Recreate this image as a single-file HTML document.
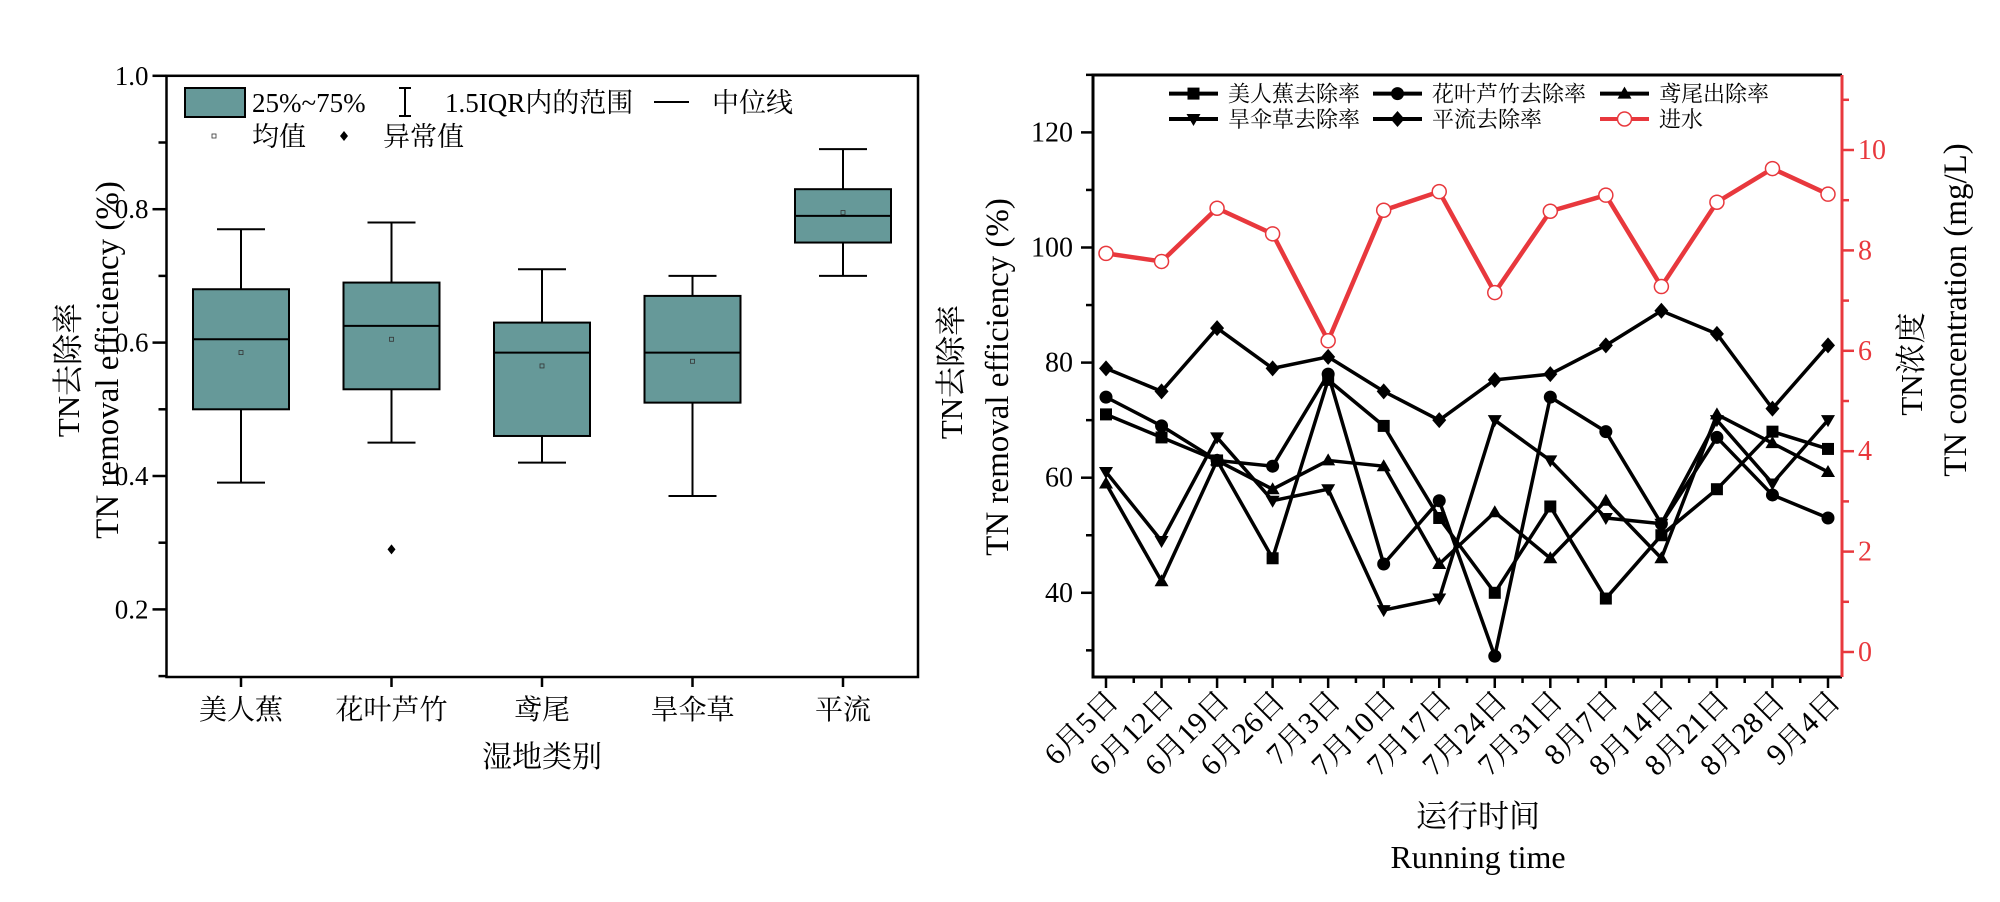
<!DOCTYPE html>
<html><head><meta charset="utf-8"><style>
html,body{margin:0;padding:0;background:#fff;}
svg{display:block;font-family:"Liberation Serif","Noto Serif CJK SC",serif;}
</style></head><body>
<svg id="svg" width="2000" height="902" viewBox="0 0 2000 902" xmlns="http://www.w3.org/2000/svg">
<g id="left"></g>
<g id="right"></g>
</svg>
<script>
// ---------- Box chart data ----------
const boxCats = ["美人蕉","花叶芦竹","鸢尾","旱伞草","平流"];
const boxMin = [0.39,0.45,0.42,0.37,0.70];
const boxQ1 = [0.50,0.53,0.46,0.51,0.75];
const boxMed = [0.605,0.625,0.585,0.585,0.79];
const boxQ3 = [0.68,0.69,0.63,0.67,0.83];
const boxMax = [0.77,0.78,0.71,0.70,0.89];
const boxMean = [0.585,0.605,0.565,0.572,0.795];
const boxOutliers = [[],[0.29],[],[],[]];
const boxYTicks = [0.2,0.4,0.6,0.8,1.0];
const boxYTickLabels = ["0.2","0.4","0.6","0.8","1.0"];

// ---------- Line chart data ----------
const dates = ["6月5日","6月12日","6月19日","6月26日","7月3日","7月10日","7月17日","7月24日","7月31日","8月7日","8月14日","8月21日","8月28日","9月4日"];
const sMeiren = [71,67,63,46,77,69,53,40,55,39,50,58,68,65];
const sHuaye = [74,69,63,62,78,45,56,29,74,68,52,67,57,53];
const sYuanwei = [59,42,63,58,63,62,45,54,46,56,46,71,66,61];
const sHansan = [61,49,67,56,58,37,39,70,63,53,52,70,59,70];
const sPingliu = [79,75,86,79,81,75,70,77,78,83,89,85,72,83];
const sInflow = [7.94,7.78,8.84,8.33,6.2,8.8,9.17,7.16,8.78,9.1,7.28,8.96,9.63,9.12];
const leftTicks = [40,60,80,100,120];
const rightTicks = [0,2,4,6,8,10];

const NS="http://www.w3.org/2000/svg";
function mk(parent,tag,attrs,text){const e=document.createElementNS(NS,tag);for(const k in attrs)e.setAttribute(k,attrs[k]);if(text!==undefined)e.textContent=text;parent.appendChild(e);return e;}

// ===== Left box chart =====
const L=document.getElementById('left');
const bx0=166.5,bx1=918,by0=75.8,by1=677;
const yB=v=>by0+(1.0-v)*667;
const xB=i=>241+150.5*i;
let e;
for(let v=0.1;v<1.0001;v+=0.1){const r=Math.round(v*10)/10;const major=Math.round(r*10)%2===0;
 e=mk(L,'line',{x1:bx0,x2:bx0-(major?14:8),y1:yB(r),y2:yB(r),stroke:'#000','stroke-width':2.5});
 }
boxYTicks.forEach((t,i)=>{e=mk(L,'text',{x:bx0-18,y:yB(t)+9,'text-anchor':'end','font-size':27},boxYTickLabels[i]);
 });
boxCats.forEach((c,i)=>{
 const x=xB(i),w=96,cw=48;
 const g=mk(L,'g',{});
 mk(g,'line',{x1:x,x2:x,y1:yB(boxMax[i]),y2:yB(boxQ3[i]),stroke:'#000','stroke-width':2});
 mk(g,'line',{x1:x,x2:x,y1:yB(boxQ1[i]),y2:yB(boxMin[i]),stroke:'#000','stroke-width':2});
 mk(g,'line',{x1:x-cw/2,x2:x+cw/2,y1:yB(boxMax[i]),y2:yB(boxMax[i]),stroke:'#000','stroke-width':2});
 mk(g,'line',{x1:x-cw/2,x2:x+cw/2,y1:yB(boxMin[i]),y2:yB(boxMin[i]),stroke:'#000','stroke-width':2});
 mk(g,'rect',{x:x-w/2,y:yB(boxQ3[i]),width:w,height:yB(boxQ1[i])-yB(boxQ3[i]),fill:'#669999',stroke:'#000','stroke-width':2});
 mk(g,'line',{x1:x-w/2,x2:x+w/2,y1:yB(boxMed[i]),y2:yB(boxMed[i]),stroke:'#000','stroke-width':2});
 mk(g,'rect',{x:x-2,y:yB(boxMean[i])-2,width:4,height:4,fill:'none',stroke:'#333','stroke-width':0.8});
 boxOutliers[i].forEach(o=>{mk(g,'path',{d:`M${x},${yB(o)-5}L${x+4},${yB(o)}L${x},${yB(o)+5}L${x-4},${yB(o)}Z`,fill:'#000'});});
 e=mk(L,'line',{x1:x,x2:x,y1:by1,y2:by1+10,stroke:'#000','stroke-width':2.5});
 
 e=mk(L,'text',{x:x,y:719,'text-anchor':'middle','font-size':28},c);
 
});
e=mk(L,'rect',{x:bx0,y:by0,width:bx1-bx0,height:by1-by0,fill:'none',stroke:'#000','stroke-width':2.5});

e=mk(L,'text',{x:542,y:767,'text-anchor':'middle','font-size':30},'湿地类别');

e=mk(L,'text',{x:0,y:0,transform:'translate(79,370) rotate(-90)','text-anchor':'middle','font-size':31},'TN去除率');

e=mk(L,'text',{x:0,y:0,transform:'translate(118,360) rotate(-90)','text-anchor':'middle','font-size':33},'TN removal efficiency (%)');

// legend
const lg=mk(L,'g',{});
mk(lg,'rect',{x:185,y:88,width:60,height:29,fill:'#669999',stroke:'#000','stroke-width':2});
mk(lg,'text',{x:252,y:112,'font-size':27},'25%~75%');
mk(lg,'line',{x1:405,x2:405,y1:88,y2:116,stroke:'#000','stroke-width':2});
mk(lg,'line',{x1:399,x2:411,y1:88,y2:88,stroke:'#000','stroke-width':2});
mk(lg,'line',{x1:399,x2:411,y1:116,y2:116,stroke:'#000','stroke-width':2});
mk(lg,'text',{x:445,y:112,'font-size':27},'1.5IQR内的范围');
mk(lg,'line',{x1:654,x2:689,y1:102,y2:102,stroke:'#000','stroke-width':2});
mk(lg,'text',{x:712,y:112,'font-size':27},'中位线');
mk(lg,'rect',{x:212,y:134,width:4,height:4,fill:'none',stroke:'#333','stroke-width':0.8});
mk(lg,'text',{x:252,y:146,'font-size':27},'均值');
mk(lg,'path',{d:'M344,131L348,136L344,141L340,136Z',fill:'#000'});
mk(lg,'text',{x:383,y:146,'font-size':27},'异常值');

// ===== Right line chart =====
const R=document.getElementById('right');
const rx0=1093,rx1=1842,ry0=75,ry1=677;
const xR=i=>1106+(1828-1106)/(dates.length-1)*i;
const yL=v=>132.4+(120-v)*5.755;
const yRr=v=>652-v*50.2;
const red='#e8383d';
for(let v=30;v<=130;v+=10){const major=v%20===0;
 e=mk(R,'line',{x1:rx0,x2:rx0-(major?12:7),y1:yL(v),y2:yL(v),stroke:'#000','stroke-width':2.5});
 }
leftTicks.forEach(t=>{e=mk(R,'text',{x:1073,y:yL(t)+9,'text-anchor':'end','font-size':28},String(t));
 });
for(let v=0;v<=11;v+=1){const major=v%2===0;
 e=mk(R,'line',{x1:rx1,x2:rx1+(major?12:7),y1:yRr(v),y2:yRr(v),stroke:red,'stroke-width':2.5});
 }
rightTicks.forEach(t=>{e=mk(R,'text',{x:1858,y:yRr(t)+9,'font-size':28,fill:red},String(t));
 });
dates.forEach((d,i)=>{const x=xR(i);
 e=mk(R,'line',{x1:x,x2:x,y1:ry1,y2:ry1+11,stroke:'#000','stroke-width':2.5});
 
 if(i<dates.length-1){e=mk(R,'line',{x1:x+(xR(1)-xR(0))/2,x2:x+(xR(1)-xR(0))/2,y1:ry1,y2:ry1+6,stroke:'#000','stroke-width':2.5});
 }
 e=mk(R,'text',{x:0,y:0,transform:`translate(${x+14},${ry1+26}) rotate(-45)`,'text-anchor':'end','font-size':30},d);
 
});
function marker(g,type,x,y,col){
 if(type==='square')mk(g,'rect',{x:x-6,y:y-6,width:12,height:12,fill:col});
 else if(type==='circle')mk(g,'circle',{cx:x,cy:y,r:6.5,fill:col});
 else if(type==='up')mk(g,'path',{d:`M${x},${y-7}L${x+7},${y+5}L${x-7},${y+5}Z`,fill:col});
 else if(type==='down')mk(g,'path',{d:`M${x},${y+7}L${x+7},${y-5}L${x-7},${y-5}Z`,fill:col});
 else if(type==='diamond')mk(g,'path',{d:`M${x},${y-8}L${x+7},${y}L${x},${y+8}L${x-7},${y}Z`,fill:col});
 else if(type==='open')mk(g,'circle',{cx:x,cy:y,r:7,fill:'#fff',stroke:col,'stroke-width':1.5});
}
const series=[
 {name:'series-meiren',data:sMeiren,m:'square',col:'#000',y:yL,label:'美人蕉去除率'},
 {name:'series-huaye',data:sHuaye,m:'circle',col:'#000',y:yL,label:'花叶芦竹去除率'},
 {name:'series-yuanwei',data:sYuanwei,m:'up',col:'#000',y:yL,label:'鸢尾出除率'},
 {name:'series-hansan',data:sHansan,m:'down',col:'#000',y:yL,label:'旱伞草去除率'},
 {name:'series-pingliu',data:sPingliu,m:'diamond',col:'#000',y:yL,label:'平流去除率'},
 {name:'series-inflow',data:sInflow,m:'open',col:red,y:yRr,label:'进水'}];
series.forEach(s=>{
 const g=mk(R,'g',{});
 mk(g,'polyline',{points:s.data.map((v,i)=>xR(i)+','+s.y(v)).join(' '),fill:'none',stroke:s.col,'stroke-width':s.m==='open'?4.5:3.5,'stroke-linejoin':'round'});
 s.data.forEach((v,i)=>marker(g,s.m,xR(i),s.y(v),s.col));
});
e=mk(R,'path',{d:`M${rx1},${ry0}L${rx0},${ry0}L${rx0},${ry1}L${rx1},${ry1}`,fill:'none',stroke:'#000','stroke-width':3});

e=mk(R,'line',{x1:rx1,x2:rx1,y1:ry0,y2:ry1,stroke:red,'stroke-width':3});

// legend
const rl=mk(R,'g',{});
const lpos=[[1169,93.6],[1373,93.6],[1600,93.6],[1169,119],[1373,119],[1600,119]];
series.forEach((s,i)=>{const [x,y]=lpos[i];
 mk(rl,'line',{x1:x,x2:x+49,y1:y,y2:y,stroke:s.col,'stroke-width':4});
 marker(rl,s.m,x+24.5,y,s.col);
 mk(rl,'text',{x:x+59,y:y+8,'font-size':22},s.label);
});
e=mk(R,'text',{x:1478,y:827,'text-anchor':'middle','font-size':31},'运行时间');

e=mk(R,'text',{x:1478,y:868,'text-anchor':'middle','font-size':32},'Running time');

e=mk(R,'text',{x:0,y:0,transform:'translate(962,372) rotate(-90)','text-anchor':'middle','font-size':31},'TN去除率');

e=mk(R,'text',{x:0,y:0,transform:'translate(1008,377) rotate(-90)','text-anchor':'middle','font-size':33},'TN removal efficiency (%)');

e=mk(R,'text',{x:0,y:0,transform:'translate(1922,364) rotate(-90)','text-anchor':'middle','font-size':31},'TN浓度');

e=mk(R,'text',{x:0,y:0,transform:'translate(1966,310) rotate(-90)','text-anchor':'middle','font-size':33},'TN concentration (mg/L)');

</script>
</body></html>
